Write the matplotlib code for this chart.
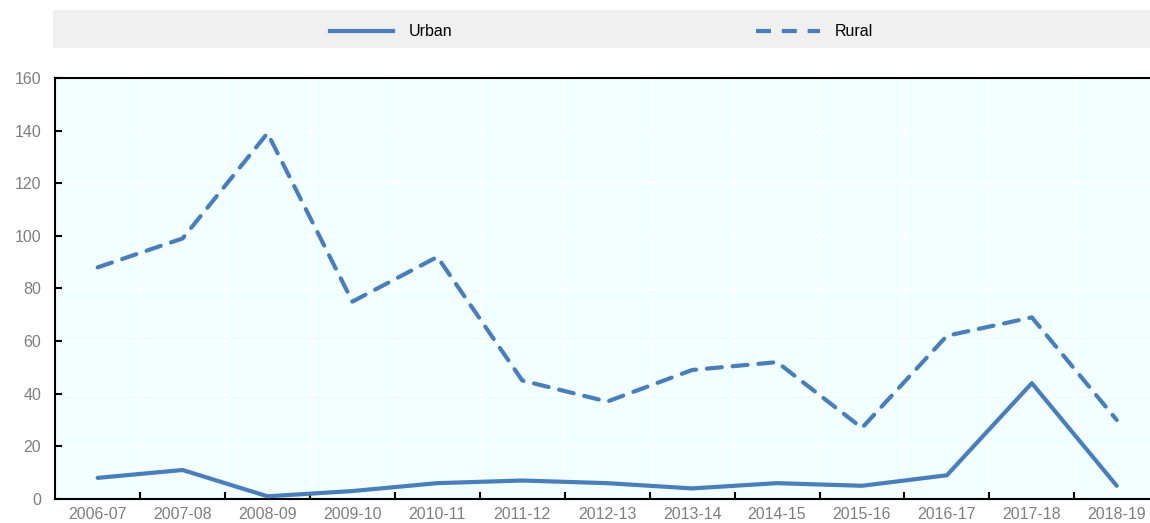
import numpy as np
import matplotlib.pyplot as plt
from matplotlib import font_manager
from matplotlib.lines import Line2D
from matplotlib.patches import Rectangle

# narrow font like the original if installed, else regular
names = {f.name for f in font_manager.fontManager.ttflist}
if 'Liberation Sans Narrow' in names:
    fam, fs = 'Liberation Sans Narrow', 13.5
else:
    fam, fs = 'Liberation Sans', 11.5
plt.rcParams['font.family'] = [fam, 'DejaVu Sans']

years = ['2006-07', '2007-08', '2008-09', '2009-10', '2010-11', '2011-12', '2012-13',
         '2013-14', '2014-15', '2015-16', '2016-17', '2017-18', '2018-19']
urban = [8, 11, 1, 3, 6, 7, 6, 4, 6, 5, 9, 44, 5]
rural = [88, 99, 139, 75, 92, 45, 37, 49, 52, 27, 62, 69, 30]

blue = '#4a7ebb'
grey = '#7f7f7f'

fig = plt.figure(figsize=(11.5, 5.23), dpi=100)
ax = fig.add_axes([0.048, 0.046, 0.960, 0.805])
ax.set_facecolor('#f2ffff')

x = np.arange(len(years))
ax.plot(x, urban, color=blue, lw=3, solid_capstyle='round', solid_joinstyle='round', zorder=3)
ax.plot(x, rural, color=blue, lw=3, ls=(0, (3.6, 2.6)), dash_capstyle='round', zorder=3)

ax.set_xlim(-0.5, len(years) - 0.5)
ax.set_ylim(0, 160)
ax.set_yticks(np.arange(0, 161, 20))
ax.set_xticks(x)
ax.set_xticklabels(years)
ax.set_xticks(x[:-1] + 0.5, minor=True)

ax.grid(False)
for v in x[:-1] + 0.5:
    ax.axvline(v, color='white', lw=1, zorder=1)
for v in range(20, 160, 20):
    ax.axhline(v, color='white', lw=1, zorder=1)

for s in ax.spines.values():
    s.set_color('black')
    s.set_linewidth(1.5)
ax.spines['right'].set_visible(False)
ax.tick_params(axis='x', which='major', length=0, labelsize=fs, labelcolor=grey, pad=6)
ax.tick_params(axis='x', which='minor', direction='in', length=5, width=1.5, color='black')
ax.tick_params(axis='y', direction='in', length=5, width=1.5, color='black',
               labelsize=fs, labelcolor=grey, pad=10)

# legend band
fig.patches.append(Rectangle((0.046, 0.908), 0.954, 0.073, transform=fig.transFigure,
                             facecolor='#f0f0f0', edgecolor='none', zorder=0))
fig.lines.append(Line2D([0.287, 0.342], [0.940, 0.940], transform=fig.transFigure,
                        color=blue, lw=3))
fig.text(0.355, 0.940, 'Urban', ha='left', va='center', fontsize=fs, color='black')
fig.lines.append(Line2D([0.657, 0.713], [0.940, 0.940], transform=fig.transFigure,
                        color=blue, lw=3, ls=(0, (3.6, 2.6))))
fig.text(0.726, 0.940, 'Rural', ha='left', va='center', fontsize=fs, color='black')

fig.savefig('out.png', dpi=100)
